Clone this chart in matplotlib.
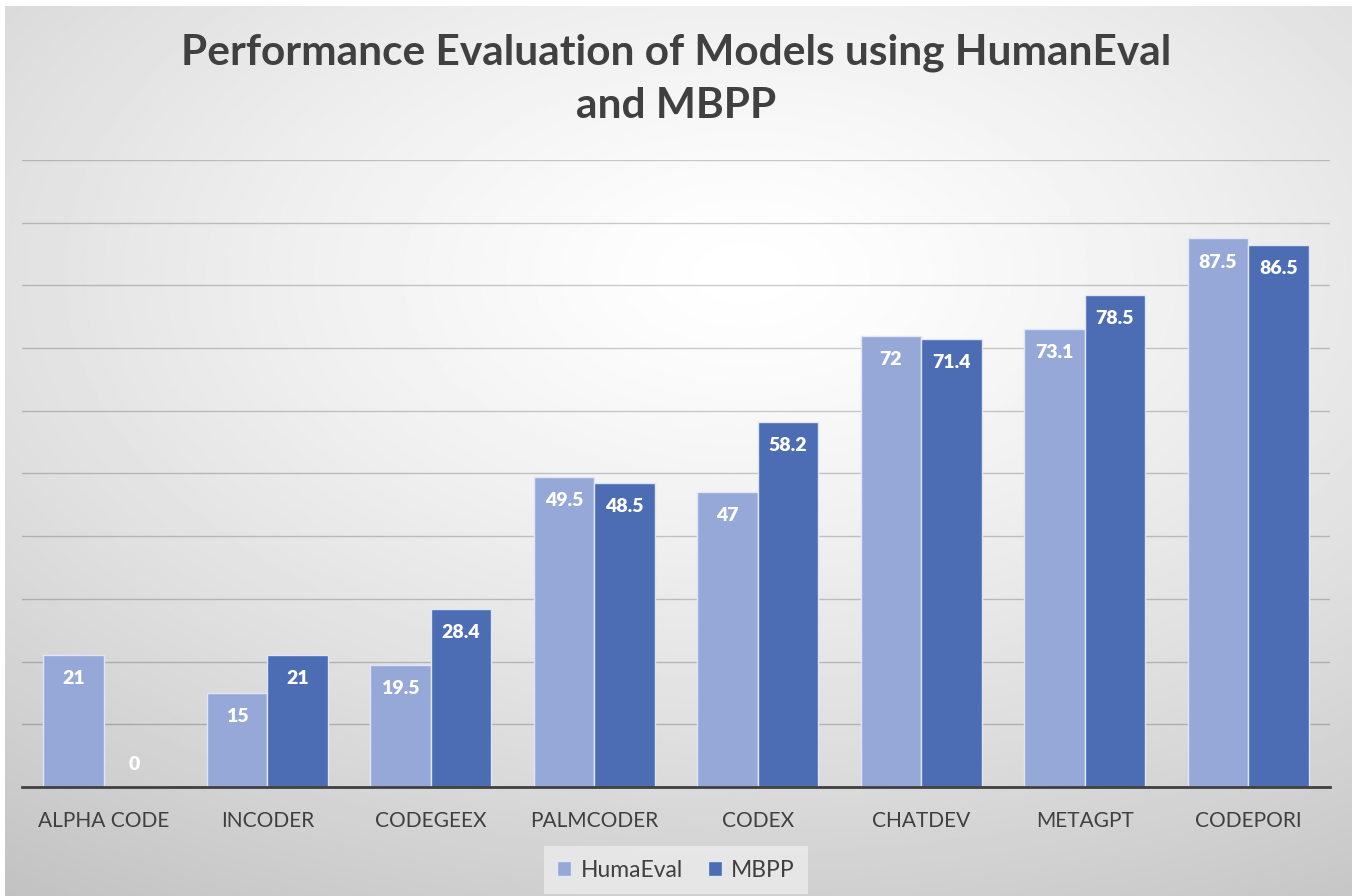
import numpy as np
import matplotlib
matplotlib.use('Agg')
import matplotlib.pyplot as plt

# Datos del grafico
models = ['ALPHA CODE', 'INCODER', 'CODEGEEX', 'PALMCODER', 'CODEX', 'CHATDEV', 'METAGPT', 'CODEPORI']
humaeval = [21, 15, 19.5, 49.5, 47, 72, 73.1, 87.5]
mbpp = [0, 21, 28.4, 48.5, 58.2, 71.4, 78.5, 86.5]
series_names = ['HumaEval', 'MBPP']

plt.rcParams['font.family'] = ['Lato', 'DejaVu Sans']

light = '#96a8d7'
dark = '#4c6db3'

fig = plt.figure(figsize=(13.52, 8.96), dpi=100)
fig.patch.set_facecolor('white')

# Fondo con degradado radial
bg = fig.add_axes([0.004, 0, 0.996, 0.993])
bg.set_axis_off()
yy, xx = np.mgrid[0:1:400j, 0:1:600j]
r = np.sqrt(((xx - 0.55) / 1.0) ** 2 + ((yy - 0.3) / 0.9) ** 2)
r = np.clip(r / r.max(), 0, 1)
shade = 1.0 - 0.24 * r ** 1.3
bg.imshow(shade, cmap='gray', vmin=0, vmax=1, aspect='auto', extent=[0, 1, 1, 0])

ax = fig.add_axes([0.0163, 0.1217, 0.9674, 0.6997])
ax.patch.set_alpha(0)

x = np.arange(len(models))
w = 0.37
b1 = ax.bar(x - w / 2, humaeval, w, color=light, edgecolor='#dfe6f5', linewidth=1, label=series_names[0], zorder=3)
b2 = ax.bar(x + w / 2, mbpp, w, color=dark, edgecolor='#dfe6f5', linewidth=1, label=series_names[1], zorder=3)

# Etiquetas de valor dentro de las barras
for bars, vals in ((b1, humaeval), (b2, mbpp)):
    for bar, v in zip(bars, vals):
        cx = bar.get_x() + bar.get_width() / 2
        dy = -17 if v > 5 else 16
        ax.annotate(f'{v:g}', (cx, v), xytext=(0, dy), textcoords='offset points',
                    ha='center', va='center', color='white', fontsize=14, fontweight='heavy', zorder=4)

ax.set_xlim(-0.5, len(models) - 0.5)
ax.set_ylim(0, 100)
ax.set_yticks(np.arange(0, 101, 10))
ax.yaxis.grid(True, color='black', alpha=0.2, linewidth=1, zorder=0)
ax.tick_params(axis='y', left=False, labelleft=False)
ax.tick_params(axis='x', bottom=False, labelsize=15, labelcolor='#404040', pad=14)
ax.set_xticks(x)
ax.set_xticklabels(models)
for s in ['top', 'right', 'left']:
    ax.spines[s].set_visible(False)
ax.spines['bottom'].set_color('#404040')
ax.spines['bottom'].set_linewidth(2)
ax.spines['bottom'].set_zorder(5)

fig.text(0.5, 0.9275, 'Performance Evaluation of Models using HumanEval',
         ha='center', va='baseline', fontsize=30.5, fontweight='bold', color='#404040')
fig.text(0.5, 0.8683, 'and MBPP',
         ha='center', va='baseline', fontsize=30.5, fontweight='bold', color='#404040')

leg = fig.legend(handles=[b1, b2], labels=series_names, loc='center', bbox_to_anchor=(0.5, 0.029),
                 ncol=2, frameon=True, fontsize=16.5, handlelength=0.6, handleheight=0.6,
                 handletextpad=0.4, columnspacing=1.1, borderpad=0.3)
leg.get_frame().set_facecolor('#ececec')
leg.get_frame().set_edgecolor('none')
leg.get_frame().set_alpha(0.8)
leg.get_frame().set_boxstyle('square')
for t in leg.get_texts():
    t.set_color('#404040')

plt.savefig('out.png', dpi=100)
plt.close()
